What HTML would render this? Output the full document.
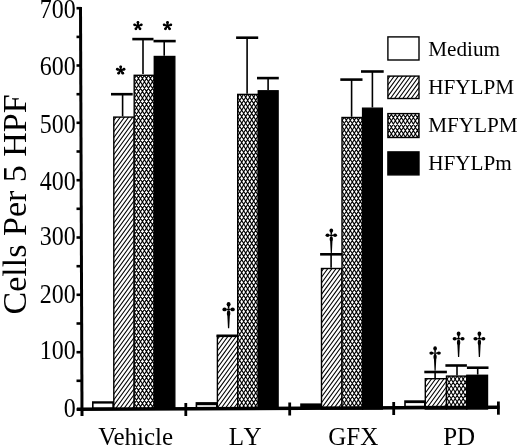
<!DOCTYPE html>
<html><head><meta charset="utf-8"><title>Cells Per 5 HPF</title>
<style>
html,body{margin:0;padding:0;background:#fff;}
body{width:520px;height:446px;overflow:hidden;font-family:"Liberation Serif", serif;}
svg{display:block;will-change:transform;}
</style></head><body>
<svg width="520" height="446" viewBox="0 0 520 446" font-family='"Liberation Serif", serif'><rect x="113.8" y="117.1" width="20.4" height="291.9" fill="#fff"/><clipPath id="c1"><rect x="113.80" y="117.10" width="20.40" height="291.90"/></clipPath><path clip-path="url(#c1)" d="M112.80,110.37L135.20,79.60M112.80,116.07L135.20,85.30M112.80,121.77L135.20,91.00M112.80,127.47L135.20,96.70M112.80,133.17L135.20,102.40M112.80,138.87L135.20,108.10M112.80,144.57L135.20,113.80M112.80,150.27L135.20,119.50M112.80,155.97L135.20,125.20M112.80,161.67L135.20,130.90M112.80,167.37L135.20,136.60M112.80,173.07L135.20,142.30M112.80,178.77L135.20,148.00M112.80,184.47L135.20,153.70M112.80,190.17L135.20,159.40M112.80,195.87L135.20,165.10M112.80,201.57L135.20,170.80M112.80,207.27L135.20,176.50M112.80,212.97L135.20,182.20M112.80,218.67L135.20,187.90M112.80,224.37L135.20,193.60M112.80,230.07L135.20,199.30M112.80,235.77L135.20,205.00M112.80,241.47L135.20,210.70M112.80,247.17L135.20,216.40M112.80,252.87L135.20,222.10M112.80,258.57L135.20,227.80M112.80,264.27L135.20,233.50M112.80,269.97L135.20,239.20M112.80,275.67L135.20,244.90M112.80,281.37L135.20,250.60M112.80,287.07L135.20,256.30M112.80,292.77L135.20,262.00M112.80,298.47L135.20,267.70M112.80,304.17L135.20,273.40M112.80,309.87L135.20,279.10M112.80,315.57L135.20,284.80M112.80,321.27L135.20,290.50M112.80,326.97L135.20,296.20M112.80,332.67L135.20,301.90M112.80,338.37L135.20,307.60M112.80,344.07L135.20,313.30M112.80,349.77L135.20,319.00M112.80,355.47L135.20,324.70M112.80,361.17L135.20,330.40M112.80,366.87L135.20,336.10M112.80,372.57L135.20,341.80M112.80,378.27L135.20,347.50M112.80,383.97L135.20,353.20M112.80,389.67L135.20,358.90M112.80,395.37L135.20,364.60M112.80,401.07L135.20,370.30M112.80,406.77L135.20,376.00M112.80,412.47L135.20,381.70M112.80,418.17L135.20,387.40M112.80,423.87L135.20,393.10M112.80,429.57L135.20,398.80M112.80,435.27L135.20,404.50M112.80,440.97L135.20,410.20" stroke="#000" stroke-width="1.05" fill="none"/><rect x="113.8" y="117.1" width="20.4" height="291.9" fill="none" stroke="#000" stroke-width="1.4"/>
<rect x="134.2" y="75.3" width="20.1" height="333.7" fill="#fff"/><clipPath id="c2"><rect x="134.20" y="75.30" width="20.10" height="333.70"/></clipPath><path clip-path="url(#c2)" d="M133.20,30.94L155.30,66.85M133.20,37.44L155.30,73.35M133.20,43.94L155.30,79.85M133.20,50.44L155.30,86.35M133.20,56.94L155.30,92.85M133.20,63.44L155.30,99.35M133.20,69.94L155.30,105.85M133.20,76.44L155.30,112.35M133.20,82.94L155.30,118.85M133.20,89.44L155.30,125.35M133.20,95.94L155.30,131.85M133.20,102.44L155.30,138.35M133.20,108.94L155.30,144.85M133.20,115.44L155.30,151.35M133.20,121.94L155.30,157.85M133.20,128.44L155.30,164.35M133.20,134.94L155.30,170.85M133.20,141.44L155.30,177.35M133.20,147.94L155.30,183.85M133.20,154.44L155.30,190.35M133.20,160.94L155.30,196.85M133.20,167.44L155.30,203.35M133.20,173.94L155.30,209.85M133.20,180.44L155.30,216.35M133.20,186.94L155.30,222.85M133.20,193.44L155.30,229.35M133.20,199.94L155.30,235.85M133.20,206.44L155.30,242.35M133.20,212.94L155.30,248.85M133.20,219.44L155.30,255.35M133.20,225.94L155.30,261.85M133.20,232.44L155.30,268.35M133.20,238.94L155.30,274.85M133.20,245.44L155.30,281.35M133.20,251.94L155.30,287.85M133.20,258.44L155.30,294.35M133.20,264.94L155.30,300.85M133.20,271.44L155.30,307.35M133.20,277.94L155.30,313.85M133.20,284.44L155.30,320.35M133.20,290.94L155.30,326.85M133.20,297.44L155.30,333.35M133.20,303.94L155.30,339.85M133.20,310.44L155.30,346.35M133.20,316.94L155.30,352.85M133.20,323.44L155.30,359.35M133.20,329.94L155.30,365.85M133.20,336.44L155.30,372.35M133.20,342.94L155.30,378.85M133.20,349.44L155.30,385.35M133.20,355.94L155.30,391.85M133.20,362.44L155.30,398.35M133.20,368.94L155.30,404.85M133.20,375.44L155.30,411.35M133.20,381.94L155.30,417.85M133.20,388.44L155.30,424.35M133.20,394.94L155.30,430.85M133.20,401.44L155.30,437.35M133.20,407.94L155.30,443.85M133.20,414.44L155.30,450.35M133.20,420.94L155.30,456.85M133.20,427.44L155.30,463.35M133.20,433.94L155.30,469.85M133.20,440.44L155.30,476.35M133.20,67.50L155.30,31.59M133.20,74.00L155.30,38.09M133.20,80.50L155.30,44.59M133.20,87.00L155.30,51.09M133.20,93.50L155.30,57.59M133.20,100.00L155.30,64.09M133.20,106.50L155.30,70.59M133.20,113.00L155.30,77.09M133.20,119.50L155.30,83.59M133.20,126.00L155.30,90.09M133.20,132.50L155.30,96.59M133.20,139.00L155.30,103.09M133.20,145.50L155.30,109.59M133.20,152.00L155.30,116.09M133.20,158.50L155.30,122.59M133.20,165.00L155.30,129.09M133.20,171.50L155.30,135.59M133.20,178.00L155.30,142.09M133.20,184.50L155.30,148.59M133.20,191.00L155.30,155.09M133.20,197.50L155.30,161.59M133.20,204.00L155.30,168.09M133.20,210.50L155.30,174.59M133.20,217.00L155.30,181.09M133.20,223.50L155.30,187.59M133.20,230.00L155.30,194.09M133.20,236.50L155.30,200.59M133.20,243.00L155.30,207.09M133.20,249.50L155.30,213.59M133.20,256.00L155.30,220.09M133.20,262.50L155.30,226.59M133.20,269.00L155.30,233.09M133.20,275.50L155.30,239.59M133.20,282.00L155.30,246.09M133.20,288.50L155.30,252.59M133.20,295.00L155.30,259.09M133.20,301.50L155.30,265.59M133.20,308.00L155.30,272.09M133.20,314.50L155.30,278.59M133.20,321.00L155.30,285.09M133.20,327.50L155.30,291.59M133.20,334.00L155.30,298.09M133.20,340.50L155.30,304.59M133.20,347.00L155.30,311.09M133.20,353.50L155.30,317.59M133.20,360.00L155.30,324.09M133.20,366.50L155.30,330.59M133.20,373.00L155.30,337.09M133.20,379.50L155.30,343.59M133.20,386.00L155.30,350.09M133.20,392.50L155.30,356.59M133.20,399.00L155.30,363.09M133.20,405.50L155.30,369.59M133.20,412.00L155.30,376.09M133.20,418.50L155.30,382.59M133.20,425.00L155.30,389.09M133.20,431.50L155.30,395.59M133.20,438.00L155.30,402.09M133.20,444.50L155.30,408.59" stroke="#000" stroke-width="1.1" fill="none"/><rect x="134.2" y="75.3" width="20.1" height="333.7" fill="none" stroke="#000" stroke-width="1.4"/>
<rect x="154.3" y="56.5" width="20.5" height="352.5" fill="#000" stroke="#000" stroke-width="1.4"/>
<rect x="217.4" y="335.9" width="20.3" height="73.1" fill="#fff"/><clipPath id="c3"><rect x="217.40" y="335.90" width="20.30" height="73.10"/></clipPath><path clip-path="url(#c3)" d="M216.40,329.38L238.70,298.75M216.40,335.08L238.70,304.45M216.40,340.78L238.70,310.15M216.40,346.48L238.70,315.85M216.40,352.18L238.70,321.55M216.40,357.88L238.70,327.25M216.40,363.58L238.70,332.95M216.40,369.28L238.70,338.65M216.40,374.98L238.70,344.35M216.40,380.68L238.70,350.05M216.40,386.38L238.70,355.75M216.40,392.08L238.70,361.45M216.40,397.78L238.70,367.15M216.40,403.48L238.70,372.85M216.40,409.18L238.70,378.55M216.40,414.88L238.70,384.25M216.40,420.58L238.70,389.95M216.40,426.28L238.70,395.65M216.40,431.98L238.70,401.35M216.40,437.68L238.70,407.05M216.40,443.38L238.70,412.75" stroke="#000" stroke-width="1.05" fill="none"/><rect x="217.4" y="335.9" width="20.3" height="73.1" fill="none" stroke="#000" stroke-width="1.4"/>
<rect x="237.7" y="94.4" width="20.6" height="314.6" fill="#fff"/><clipPath id="c4"><rect x="237.70" y="94.40" width="20.60" height="314.60"/></clipPath><path clip-path="url(#c4)" d="M236.70,50.04L259.30,86.76M236.70,56.54L259.30,93.26M236.70,63.04L259.30,99.76M236.70,69.54L259.30,106.26M236.70,76.04L259.30,112.76M236.70,82.54L259.30,119.26M236.70,89.04L259.30,125.76M236.70,95.54L259.30,132.26M236.70,102.04L259.30,138.76M236.70,108.54L259.30,145.26M236.70,115.04L259.30,151.76M236.70,121.54L259.30,158.26M236.70,128.04L259.30,164.76M236.70,134.54L259.30,171.26M236.70,141.04L259.30,177.76M236.70,147.54L259.30,184.26M236.70,154.04L259.30,190.76M236.70,160.54L259.30,197.26M236.70,167.04L259.30,203.76M236.70,173.54L259.30,210.26M236.70,180.04L259.30,216.76M236.70,186.54L259.30,223.26M236.70,193.04L259.30,229.76M236.70,199.54L259.30,236.26M236.70,206.04L259.30,242.76M236.70,212.54L259.30,249.26M236.70,219.04L259.30,255.76M236.70,225.54L259.30,262.26M236.70,232.04L259.30,268.76M236.70,238.54L259.30,275.26M236.70,245.04L259.30,281.76M236.70,251.54L259.30,288.26M236.70,258.04L259.30,294.76M236.70,264.54L259.30,301.26M236.70,271.04L259.30,307.76M236.70,277.54L259.30,314.26M236.70,284.04L259.30,320.76M236.70,290.54L259.30,327.26M236.70,297.04L259.30,333.76M236.70,303.54L259.30,340.26M236.70,310.04L259.30,346.76M236.70,316.54L259.30,353.26M236.70,323.04L259.30,359.76M236.70,329.54L259.30,366.26M236.70,336.04L259.30,372.76M236.70,342.54L259.30,379.26M236.70,349.04L259.30,385.76M236.70,355.54L259.30,392.26M236.70,362.04L259.30,398.76M236.70,368.54L259.30,405.26M236.70,375.04L259.30,411.76M236.70,381.54L259.30,418.26M236.70,388.04L259.30,424.76M236.70,394.54L259.30,431.26M236.70,401.04L259.30,437.76M236.70,407.54L259.30,444.26M236.70,414.04L259.30,450.76M236.70,420.54L259.30,457.26M236.70,427.04L259.30,463.76M236.70,433.54L259.30,470.26M236.70,440.04L259.30,476.76M236.70,446.54L259.30,483.26M236.70,85.79L259.30,49.06M236.70,92.29L259.30,55.56M236.70,98.79L259.30,62.06M236.70,105.29L259.30,68.56M236.70,111.79L259.30,75.06M236.70,118.29L259.30,81.56M236.70,124.79L259.30,88.06M236.70,131.29L259.30,94.56M236.70,137.79L259.30,101.06M236.70,144.29L259.30,107.56M236.70,150.79L259.30,114.06M236.70,157.29L259.30,120.56M236.70,163.79L259.30,127.06M236.70,170.29L259.30,133.56M236.70,176.79L259.30,140.06M236.70,183.29L259.30,146.56M236.70,189.79L259.30,153.06M236.70,196.29L259.30,159.56M236.70,202.79L259.30,166.06M236.70,209.29L259.30,172.56M236.70,215.79L259.30,179.06M236.70,222.29L259.30,185.56M236.70,228.79L259.30,192.06M236.70,235.29L259.30,198.56M236.70,241.79L259.30,205.06M236.70,248.29L259.30,211.56M236.70,254.79L259.30,218.06M236.70,261.29L259.30,224.56M236.70,267.79L259.30,231.06M236.70,274.29L259.30,237.56M236.70,280.79L259.30,244.06M236.70,287.29L259.30,250.56M236.70,293.79L259.30,257.06M236.70,300.29L259.30,263.56M236.70,306.79L259.30,270.06M236.70,313.29L259.30,276.56M236.70,319.79L259.30,283.06M236.70,326.29L259.30,289.56M236.70,332.79L259.30,296.06M236.70,339.29L259.30,302.56M236.70,345.79L259.30,309.06M236.70,352.29L259.30,315.56M236.70,358.79L259.30,322.06M236.70,365.29L259.30,328.56M236.70,371.79L259.30,335.06M236.70,378.29L259.30,341.56M236.70,384.79L259.30,348.06M236.70,391.29L259.30,354.56M236.70,397.79L259.30,361.06M236.70,404.29L259.30,367.56M236.70,410.79L259.30,374.06M236.70,417.29L259.30,380.56M236.70,423.79L259.30,387.06M236.70,430.29L259.30,393.56M236.70,436.79L259.30,400.06M236.70,443.29L259.30,406.56M236.70,449.79L259.30,413.06" stroke="#000" stroke-width="1.1" fill="none"/><rect x="237.7" y="94.4" width="20.6" height="314.6" fill="none" stroke="#000" stroke-width="1.4"/>
<rect x="258.3" y="90.8" width="19.8" height="318.2" fill="#000" stroke="#000" stroke-width="1.4"/>
<rect x="321.5" y="268.5" width="20.5" height="140.5" fill="#fff"/><clipPath id="c5"><rect x="321.50" y="268.50" width="20.50" height="140.50"/></clipPath><path clip-path="url(#c5)" d="M320.50,261.50L343.00,230.59M320.50,267.20L343.00,236.29M320.50,272.90L343.00,241.99M320.50,278.60L343.00,247.69M320.50,284.30L343.00,253.39M320.50,290.00L343.00,259.09M320.50,295.70L343.00,264.79M320.50,301.40L343.00,270.49M320.50,307.10L343.00,276.19M320.50,312.80L343.00,281.89M320.50,318.50L343.00,287.59M320.50,324.20L343.00,293.29M320.50,329.90L343.00,298.99M320.50,335.60L343.00,304.69M320.50,341.30L343.00,310.39M320.50,347.00L343.00,316.09M320.50,352.70L343.00,321.79M320.50,358.40L343.00,327.49M320.50,364.10L343.00,333.19M320.50,369.80L343.00,338.89M320.50,375.50L343.00,344.59M320.50,381.20L343.00,350.29M320.50,386.90L343.00,355.99M320.50,392.60L343.00,361.69M320.50,398.30L343.00,367.39M320.50,404.00L343.00,373.09M320.50,409.70L343.00,378.79M320.50,415.40L343.00,384.49M320.50,421.10L343.00,390.19M320.50,426.80L343.00,395.89M320.50,432.50L343.00,401.59M320.50,438.20L343.00,407.29M320.50,443.90L343.00,412.99" stroke="#000" stroke-width="1.05" fill="none"/><rect x="321.5" y="268.5" width="20.5" height="140.5" fill="none" stroke="#000" stroke-width="1.4"/>
<rect x="342.0" y="117.5" width="20.6" height="291.5" fill="#fff"/><clipPath id="c6"><rect x="342.00" y="117.50" width="20.60" height="291.50"/></clipPath><path clip-path="url(#c6)" d="M341.00,72.65L363.60,109.38M341.00,79.15L363.60,115.88M341.00,85.65L363.60,122.38M341.00,92.15L363.60,128.88M341.00,98.65L363.60,135.38M341.00,105.15L363.60,141.88M341.00,111.65L363.60,148.38M341.00,118.15L363.60,154.88M341.00,124.65L363.60,161.38M341.00,131.15L363.60,167.88M341.00,137.65L363.60,174.38M341.00,144.15L363.60,180.88M341.00,150.65L363.60,187.38M341.00,157.15L363.60,193.88M341.00,163.65L363.60,200.38M341.00,170.15L363.60,206.88M341.00,176.65L363.60,213.38M341.00,183.15L363.60,219.88M341.00,189.65L363.60,226.38M341.00,196.15L363.60,232.88M341.00,202.65L363.60,239.38M341.00,209.15L363.60,245.88M341.00,215.65L363.60,252.38M341.00,222.15L363.60,258.88M341.00,228.65L363.60,265.38M341.00,235.15L363.60,271.88M341.00,241.65L363.60,278.38M341.00,248.15L363.60,284.88M341.00,254.65L363.60,291.38M341.00,261.15L363.60,297.88M341.00,267.65L363.60,304.38M341.00,274.15L363.60,310.88M341.00,280.65L363.60,317.38M341.00,287.15L363.60,323.88M341.00,293.65L363.60,330.38M341.00,300.15L363.60,336.88M341.00,306.65L363.60,343.38M341.00,313.15L363.60,349.88M341.00,319.65L363.60,356.38M341.00,326.15L363.60,362.88M341.00,332.65L363.60,369.38M341.00,339.15L363.60,375.88M341.00,345.65L363.60,382.38M341.00,352.15L363.60,388.88M341.00,358.65L363.60,395.38M341.00,365.15L363.60,401.88M341.00,371.65L363.60,408.38M341.00,378.15L363.60,414.88M341.00,384.65L363.60,421.38M341.00,391.15L363.60,427.88M341.00,397.65L363.60,434.38M341.00,404.15L363.60,440.88M341.00,410.65L363.60,447.38M341.00,417.15L363.60,453.88M341.00,423.65L363.60,460.38M341.00,430.15L363.60,466.88M341.00,436.65L363.60,473.38M341.00,443.15L363.60,479.88M341.00,109.38L363.60,72.65M341.00,115.88L363.60,79.15M341.00,122.38L363.60,85.65M341.00,128.88L363.60,92.15M341.00,135.38L363.60,98.65M341.00,141.88L363.60,105.15M341.00,148.38L363.60,111.65M341.00,154.88L363.60,118.15M341.00,161.38L363.60,124.65M341.00,167.88L363.60,131.15M341.00,174.38L363.60,137.65M341.00,180.88L363.60,144.15M341.00,187.38L363.60,150.65M341.00,193.88L363.60,157.15M341.00,200.38L363.60,163.65M341.00,206.88L363.60,170.15M341.00,213.38L363.60,176.65M341.00,219.88L363.60,183.15M341.00,226.38L363.60,189.65M341.00,232.88L363.60,196.15M341.00,239.38L363.60,202.65M341.00,245.88L363.60,209.15M341.00,252.38L363.60,215.65M341.00,258.88L363.60,222.15M341.00,265.38L363.60,228.65M341.00,271.88L363.60,235.15M341.00,278.38L363.60,241.65M341.00,284.88L363.60,248.15M341.00,291.38L363.60,254.65M341.00,297.88L363.60,261.15M341.00,304.38L363.60,267.65M341.00,310.88L363.60,274.15M341.00,317.38L363.60,280.65M341.00,323.88L363.60,287.15M341.00,330.38L363.60,293.65M341.00,336.88L363.60,300.15M341.00,343.38L363.60,306.65M341.00,349.88L363.60,313.15M341.00,356.38L363.60,319.65M341.00,362.88L363.60,326.15M341.00,369.38L363.60,332.65M341.00,375.88L363.60,339.15M341.00,382.38L363.60,345.65M341.00,388.88L363.60,352.15M341.00,395.38L363.60,358.65M341.00,401.88L363.60,365.15M341.00,408.38L363.60,371.65M341.00,414.88L363.60,378.15M341.00,421.38L363.60,384.65M341.00,427.88L363.60,391.15M341.00,434.38L363.60,397.65M341.00,440.88L363.60,404.15M341.00,447.38L363.60,410.65" stroke="#000" stroke-width="1.1" fill="none"/><rect x="342.0" y="117.5" width="20.6" height="291.5" fill="none" stroke="#000" stroke-width="1.4"/>
<rect x="362.6" y="108.2" width="19.7" height="300.8" fill="#000" stroke="#000" stroke-width="1.4"/>
<rect x="425.3" y="378.7" width="21.2" height="30.3" fill="#fff"/><clipPath id="c7"><rect x="425.30" y="378.70" width="21.20" height="30.30"/></clipPath><path clip-path="url(#c7)" d="M424.30,371.63L447.50,339.76M424.30,377.33L447.50,345.46M424.30,383.03L447.50,351.16M424.30,388.73L447.50,356.86M424.30,394.43L447.50,362.56M424.30,400.13L447.50,368.26M424.30,405.83L447.50,373.96M424.30,411.53L447.50,379.66M424.30,417.23L447.50,385.36M424.30,422.93L447.50,391.06M424.30,428.63L447.50,396.76M424.30,434.33L447.50,402.46M424.30,440.03L447.50,408.16" stroke="#000" stroke-width="1.05" fill="none"/><rect x="425.3" y="378.7" width="21.2" height="30.3" fill="none" stroke="#000" stroke-width="1.4"/>
<rect x="446.5" y="376.1" width="20.3" height="32.9" fill="#fff"/><clipPath id="c8"><rect x="446.50" y="376.10" width="20.30" height="32.90"/></clipPath><path clip-path="url(#c8)" d="M445.50,330.92L467.80,367.16M445.50,337.42L467.80,373.66M445.50,343.92L467.80,380.16M445.50,350.42L467.80,386.66M445.50,356.92L467.80,393.16M445.50,363.42L467.80,399.66M445.50,369.92L467.80,406.16M445.50,376.42L467.80,412.66M445.50,382.92L467.80,419.16M445.50,389.42L467.80,425.66M445.50,395.92L467.80,432.16M445.50,402.42L467.80,438.66M445.50,408.92L467.80,445.16M445.50,415.42L467.80,451.66M445.50,421.92L467.80,458.16M445.50,428.42L467.80,464.66M445.50,434.92L467.80,471.16M445.50,441.42L467.80,477.66M445.50,368.79L467.80,332.55M445.50,375.29L467.80,339.05M445.50,381.79L467.80,345.55M445.50,388.29L467.80,352.05M445.50,394.79L467.80,358.55M445.50,401.29L467.80,365.05M445.50,407.79L467.80,371.55M445.50,414.29L467.80,378.05M445.50,420.79L467.80,384.55M445.50,427.29L467.80,391.05M445.50,433.79L467.80,397.55M445.50,440.29L467.80,404.05M445.50,446.79L467.80,410.55" stroke="#000" stroke-width="1.1" fill="none"/><rect x="446.5" y="376.1" width="20.3" height="32.9" fill="none" stroke="#000" stroke-width="1.4"/>
<rect x="466.8" y="375.3" width="20.7" height="33.7" fill="#000" stroke="#000" stroke-width="1.4"/>
<rect x="92" y="401.25" width="21.80" height="8.25" fill="#000"/>
<rect x="93.6" y="403.6" width="18.70" height="4.00" fill="#fff"/>
<rect x="195.6" y="402.1" width="21.80" height="6.90" fill="#000"/>
<rect x="197.2" y="405.2" width="18.80" height="1.70" fill="#fff"/>
<rect x="300.2" y="403.4" width="21.30" height="5.10" fill="#000"/>
<rect x="404.2" y="400.3" width="21.10" height="7.70" fill="#000"/>
<rect x="405.8" y="403.1" width="18.20" height="2.70" fill="#fff"/>
<line x1="122.6" y1="94.2" x2="122.6" y2="116.4" stroke="#000" stroke-width="1.6"/>
<line x1="111" y1="94.2" x2="132.7" y2="94.2" stroke="#000" stroke-width="2.6"/>
<line x1="143" y1="39.1" x2="143" y2="74" stroke="#000" stroke-width="1.6"/>
<line x1="132.3" y1="39.1" x2="153.5" y2="39.1" stroke="#000" stroke-width="2.6"/>
<line x1="164.2" y1="41.1" x2="164.2" y2="55.8" stroke="#000" stroke-width="1.6"/>
<line x1="153.5" y1="41.1" x2="175.7" y2="41.1" stroke="#000" stroke-width="2.6"/>
<line x1="227.5" y1="335.8" x2="227.5" y2="335.2" stroke="#000" stroke-width="1.6"/>
<line x1="216.5" y1="335.8" x2="238.2" y2="335.8" stroke="#000" stroke-width="2.6"/>
<line x1="247.1" y1="37.7" x2="247.1" y2="93.7" stroke="#000" stroke-width="1.6"/>
<line x1="236.1" y1="37.7" x2="258.2" y2="37.7" stroke="#000" stroke-width="2.6"/>
<line x1="268.1" y1="78.1" x2="268.1" y2="90.1" stroke="#000" stroke-width="1.6"/>
<line x1="257" y1="78.1" x2="278.8" y2="78.1" stroke="#000" stroke-width="2.6"/>
<line x1="331.1" y1="254.3" x2="331.1" y2="267.8" stroke="#000" stroke-width="1.6"/>
<line x1="320.1" y1="254.3" x2="342.3" y2="254.3" stroke="#000" stroke-width="2.6"/>
<line x1="351.6" y1="79.6" x2="351.6" y2="116.8" stroke="#000" stroke-width="1.6"/>
<line x1="340.3" y1="79.6" x2="362.5" y2="79.6" stroke="#000" stroke-width="2.6"/>
<line x1="372.4" y1="71.5" x2="372.4" y2="107.5" stroke="#000" stroke-width="1.6"/>
<line x1="361" y1="71.5" x2="383.7" y2="71.5" stroke="#000" stroke-width="2.6"/>
<line x1="435.1" y1="372" x2="435.1" y2="378" stroke="#000" stroke-width="1.6"/>
<line x1="424.3" y1="372" x2="446.9" y2="372" stroke="#000" stroke-width="2.6"/>
<line x1="457" y1="365.5" x2="457" y2="375.4" stroke="#000" stroke-width="1.6"/>
<line x1="445.4" y1="365.5" x2="466.9" y2="365.5" stroke="#000" stroke-width="2.6"/>
<line x1="477.7" y1="367.7" x2="477.7" y2="374.6" stroke="#000" stroke-width="1.6"/>
<line x1="466.9" y1="367.7" x2="488.5" y2="367.7" stroke="#000" stroke-width="2.6"/>
<line x1="80.5" y1="7" x2="82" y2="416" stroke="#000" stroke-width="3"/>
<line x1="77" y1="409.3" x2="499.5" y2="407.3" stroke="#000" stroke-width="3.6"/>
<line x1="76.5" y1="409.5" x2="81" y2="409.5" stroke="#000" stroke-width="2.6"/>
<line x1="76.5" y1="380.8" x2="81" y2="380.8" stroke="#000" stroke-width="2.6"/>
<line x1="76.5" y1="352.2" x2="81" y2="352.2" stroke="#000" stroke-width="2.6"/>
<line x1="76.5" y1="323.5" x2="81" y2="323.5" stroke="#000" stroke-width="2.6"/>
<line x1="76.5" y1="294.8" x2="81" y2="294.8" stroke="#000" stroke-width="2.6"/>
<line x1="76.5" y1="266.2" x2="81" y2="266.2" stroke="#000" stroke-width="2.6"/>
<line x1="76.5" y1="237.5" x2="81" y2="237.5" stroke="#000" stroke-width="2.6"/>
<line x1="76.5" y1="208.8" x2="81" y2="208.8" stroke="#000" stroke-width="2.6"/>
<line x1="76.5" y1="180.2" x2="81" y2="180.2" stroke="#000" stroke-width="2.6"/>
<line x1="76.5" y1="151.5" x2="81" y2="151.5" stroke="#000" stroke-width="2.6"/>
<line x1="76.5" y1="122.8" x2="81" y2="122.8" stroke="#000" stroke-width="2.6"/>
<line x1="76.5" y1="94.2" x2="81" y2="94.2" stroke="#000" stroke-width="2.6"/>
<line x1="76.5" y1="65.5" x2="81" y2="65.5" stroke="#000" stroke-width="2.6"/>
<line x1="76.5" y1="36.9" x2="81" y2="36.9" stroke="#000" stroke-width="2.6"/>
<line x1="76.5" y1="8.2" x2="81" y2="8.2" stroke="#000" stroke-width="2.6"/>
<line x1="185.8" y1="403" x2="185.8" y2="416" stroke="#000" stroke-width="2.8"/>
<line x1="289.7" y1="402.5" x2="289.7" y2="415.5" stroke="#000" stroke-width="2.8"/>
<line x1="393.7" y1="402" x2="393.7" y2="415" stroke="#000" stroke-width="2.8"/>
<line x1="498.4" y1="401.5" x2="498.4" y2="414.7" stroke="#000" stroke-width="2.8"/>
<text transform="translate(75.8,417.2) scale(1,1.1)" text-anchor="end" font-size="24">0</text>
<text transform="translate(75.8,358.9) scale(1,1.1)" text-anchor="end" font-size="24">100</text>
<text transform="translate(75.8,302.7) scale(1,1.1)" text-anchor="end" font-size="24">200</text>
<text transform="translate(75.8,245.3) scale(1,1.1)" text-anchor="end" font-size="24">300</text>
<text transform="translate(75.8,189.6) scale(1,1.1)" text-anchor="end" font-size="24">400</text>
<text transform="translate(75.8,133.1) scale(1,1.1)" text-anchor="end" font-size="24">500</text>
<text transform="translate(75.8,74.5) scale(1,1.1)" text-anchor="end" font-size="24">600</text>
<text transform="translate(75.8,17.5) scale(1,1.1)" text-anchor="end" font-size="24">700</text>
<text x="135.7" y="444.7" text-anchor="middle" font-size="25">Vehicle</text>
<text x="246.2" y="444.7" text-anchor="middle" font-size="25" letter-spacing="2">LY</text>
<text x="353.2" y="444.7" text-anchor="middle" font-size="25">GFX</text>
<text x="459.2" y="444.7" text-anchor="middle" font-size="25">PD</text>
<text transform="translate(25.9,314.4) rotate(-90)" x="0" y="0" font-size="34">Cells Per 5 HPF</text>
<rect x="387.9" y="36.9" width="31.1" height="23.1" fill="#fff" stroke="#000" stroke-width="1.4"/>
<text x="428.2" y="55.9" font-size="21.2">Medium</text>
<rect x="387.9" y="76.1" width="31.1" height="22.4" fill="#fff"/><clipPath id="c9"><rect x="387.90" y="76.10" width="31.10" height="22.40"/></clipPath><path clip-path="url(#c9)" d="M386.90,69.10L420.00,23.63M386.90,74.80L420.00,29.33M386.90,80.50L420.00,35.03M386.90,86.20L420.00,40.73M386.90,91.90L420.00,46.43M386.90,97.60L420.00,52.13M386.90,103.30L420.00,57.83M386.90,109.00L420.00,63.53M386.90,114.70L420.00,69.23M386.90,120.40L420.00,74.93M386.90,126.10L420.00,80.63M386.90,131.80L420.00,86.33M386.90,137.50L420.00,92.03M386.90,143.20L420.00,97.73" stroke="#000" stroke-width="1.05" fill="none"/><rect x="387.9" y="76.1" width="31.1" height="22.4" fill="none" stroke="#000" stroke-width="1.4"/>
<text x="428.2" y="93.7" font-size="21.2">HFYLPM</text>
<rect x="387.9" y="113.6" width="31.1" height="23.9" fill="#fff"/><clipPath id="c10"><rect x="387.90" y="113.60" width="31.10" height="23.90"/></clipPath><path clip-path="url(#c10)" d="M386.90,48.60L420.00,102.39M386.90,55.10L420.00,108.89M386.90,61.60L420.00,115.39M386.90,68.10L420.00,121.89M386.90,74.60L420.00,128.39M386.90,81.10L420.00,134.89M386.90,87.60L420.00,141.39M386.90,94.10L420.00,147.89M386.90,100.60L420.00,154.39M386.90,107.10L420.00,160.89M386.90,113.60L420.00,167.39M386.90,120.10L420.00,173.89M386.90,126.60L420.00,180.39M386.90,133.10L420.00,186.89M386.90,139.60L420.00,193.39M386.90,146.10L420.00,199.89M386.90,152.60L420.00,206.39M386.90,159.10L420.00,212.89M386.90,165.60L420.00,219.39M386.90,172.10L420.00,225.89M386.90,178.60L420.00,232.39M386.90,185.10L420.00,238.89M386.90,191.60L420.00,245.39M386.90,108.56L420.00,54.77M386.90,115.06L420.00,61.27M386.90,121.56L420.00,67.77M386.90,128.06L420.00,74.27M386.90,134.56L420.00,80.77M386.90,141.06L420.00,87.27M386.90,147.56L420.00,93.77M386.90,154.06L420.00,100.27M386.90,160.56L420.00,106.77M386.90,167.06L420.00,113.27M386.90,173.56L420.00,119.77M386.90,180.06L420.00,126.27M386.90,186.56L420.00,132.77M386.90,193.06L420.00,139.27" stroke="#000" stroke-width="1.1" fill="none"/><rect x="387.9" y="113.6" width="31.1" height="23.9" fill="none" stroke="#000" stroke-width="1.4"/>
<text x="428.2" y="131.7" font-size="21.2">MFYLPM</text>
<rect x="387.9" y="151.9" width="31.1" height="23.0" fill="#000" stroke="#000" stroke-width="1.4"/>
<text x="428.2" y="170.2" font-size="21.2">HFYLPm</text>
<line x1="120.70" y1="70.35" x2="120.70" y2="66.85" stroke="#000" stroke-width="2.0" stroke-linecap="round"/><circle cx="120.70" cy="66.85" r="1.4" fill="#000"/><line x1="120.70" y1="70.35" x2="124.03" y2="69.27" stroke="#000" stroke-width="2.0" stroke-linecap="round"/><circle cx="124.03" cy="69.27" r="1.4" fill="#000"/><line x1="120.70" y1="70.35" x2="122.76" y2="73.18" stroke="#000" stroke-width="2.0" stroke-linecap="round"/><circle cx="122.76" cy="73.18" r="1.4" fill="#000"/><line x1="120.70" y1="70.35" x2="118.64" y2="73.18" stroke="#000" stroke-width="2.0" stroke-linecap="round"/><circle cx="118.64" cy="73.18" r="1.4" fill="#000"/><line x1="120.70" y1="70.35" x2="117.37" y2="69.27" stroke="#000" stroke-width="2.0" stroke-linecap="round"/><circle cx="117.37" cy="69.27" r="1.4" fill="#000"/><circle cx="120.70" cy="70.35" r="1.6" fill="#000"/>
<line x1="137.95" y1="25.95" x2="137.95" y2="22.45" stroke="#000" stroke-width="2.0" stroke-linecap="round"/><circle cx="137.95" cy="22.45" r="1.4" fill="#000"/><line x1="137.95" y1="25.95" x2="141.28" y2="24.87" stroke="#000" stroke-width="2.0" stroke-linecap="round"/><circle cx="141.28" cy="24.87" r="1.4" fill="#000"/><line x1="137.95" y1="25.95" x2="140.01" y2="28.78" stroke="#000" stroke-width="2.0" stroke-linecap="round"/><circle cx="140.01" cy="28.78" r="1.4" fill="#000"/><line x1="137.95" y1="25.95" x2="135.89" y2="28.78" stroke="#000" stroke-width="2.0" stroke-linecap="round"/><circle cx="135.89" cy="28.78" r="1.4" fill="#000"/><line x1="137.95" y1="25.95" x2="134.62" y2="24.87" stroke="#000" stroke-width="2.0" stroke-linecap="round"/><circle cx="134.62" cy="24.87" r="1.4" fill="#000"/><circle cx="137.95" cy="25.95" r="1.6" fill="#000"/>
<line x1="167.50" y1="25.95" x2="167.50" y2="22.45" stroke="#000" stroke-width="2.0" stroke-linecap="round"/><circle cx="167.50" cy="22.45" r="1.4" fill="#000"/><line x1="167.50" y1="25.95" x2="170.83" y2="24.87" stroke="#000" stroke-width="2.0" stroke-linecap="round"/><circle cx="170.83" cy="24.87" r="1.4" fill="#000"/><line x1="167.50" y1="25.95" x2="169.56" y2="28.78" stroke="#000" stroke-width="2.0" stroke-linecap="round"/><circle cx="169.56" cy="28.78" r="1.4" fill="#000"/><line x1="167.50" y1="25.95" x2="165.44" y2="28.78" stroke="#000" stroke-width="2.0" stroke-linecap="round"/><circle cx="165.44" cy="28.78" r="1.4" fill="#000"/><line x1="167.50" y1="25.95" x2="164.17" y2="24.87" stroke="#000" stroke-width="2.0" stroke-linecap="round"/><circle cx="164.17" cy="24.87" r="1.4" fill="#000"/><circle cx="167.50" cy="25.95" r="1.6" fill="#000"/>
<g transform="translate(228.6,302) scale(1.031372549019608)" fill="#000"><ellipse cx="0" cy="2.3" rx="1.9" ry="2.3"/><ellipse cx="-3.9" cy="7.2" rx="2.1" ry="1.8"/><ellipse cx="3.9" cy="7.2" rx="2.1" ry="1.8"/><path d="M-0.7,3 L0.7,3 L0.8,6.5 L-0.8,6.5 Z"/><path d="M-2,6.5 L2,6.5 L2,7.9 L-2,7.9 Z"/><path d="M-0.8,8.1 C-1.9,9.6 -1.9,12 -1.2,13.5 L-0.6,25.5 L0.6,25.5 L1.2,13.5 C1.9,12 1.9,9.6 0.8,8.1 Z"/></g>
<g transform="translate(331.3,228.4) scale(0.9607843137254902)" fill="#000"><ellipse cx="0" cy="2.3" rx="1.9" ry="2.3"/><ellipse cx="-3.9" cy="7.2" rx="2.1" ry="1.8"/><ellipse cx="3.9" cy="7.2" rx="2.1" ry="1.8"/><path d="M-0.7,3 L0.7,3 L0.8,6.5 L-0.8,6.5 Z"/><path d="M-2,6.5 L2,6.5 L2,7.9 L-2,7.9 Z"/><path d="M-0.8,8.1 C-1.9,9.6 -1.9,12 -1.2,13.5 L-0.6,25.5 L0.6,25.5 L1.2,13.5 C1.9,12 1.9,9.6 0.8,8.1 Z"/></g>
<g transform="translate(435.1,346.2) scale(0.9607843137254902)" fill="#000"><ellipse cx="0" cy="2.3" rx="1.9" ry="2.3"/><ellipse cx="-3.9" cy="7.2" rx="2.1" ry="1.8"/><ellipse cx="3.9" cy="7.2" rx="2.1" ry="1.8"/><path d="M-0.7,3 L0.7,3 L0.8,6.5 L-0.8,6.5 Z"/><path d="M-2,6.5 L2,6.5 L2,7.9 L-2,7.9 Z"/><path d="M-0.8,8.1 C-1.9,9.6 -1.9,12 -1.2,13.5 L-0.6,25.5 L0.6,25.5 L1.2,13.5 C1.9,12 1.9,9.6 0.8,8.1 Z"/></g>
<g transform="translate(458.6,331.5) scale(1.0)" fill="#000"><ellipse cx="0" cy="2.3" rx="1.9" ry="2.3"/><ellipse cx="-3.9" cy="7.2" rx="2.1" ry="1.8"/><ellipse cx="3.9" cy="7.2" rx="2.1" ry="1.8"/><path d="M-0.7,3 L0.7,3 L0.8,6.5 L-0.8,6.5 Z"/><path d="M-2,6.5 L2,6.5 L2,7.9 L-2,7.9 Z"/><path d="M-0.8,8.1 C-1.9,9.6 -1.9,12 -1.2,13.5 L-0.6,25.5 L0.6,25.5 L1.2,13.5 C1.9,12 1.9,9.6 0.8,8.1 Z"/></g>
<g transform="translate(479.4,331.5) scale(1.0)" fill="#000"><ellipse cx="0" cy="2.3" rx="1.9" ry="2.3"/><ellipse cx="-3.9" cy="7.2" rx="2.1" ry="1.8"/><ellipse cx="3.9" cy="7.2" rx="2.1" ry="1.8"/><path d="M-0.7,3 L0.7,3 L0.8,6.5 L-0.8,6.5 Z"/><path d="M-2,6.5 L2,6.5 L2,7.9 L-2,7.9 Z"/><path d="M-0.8,8.1 C-1.9,9.6 -1.9,12 -1.2,13.5 L-0.6,25.5 L0.6,25.5 L1.2,13.5 C1.9,12 1.9,9.6 0.8,8.1 Z"/></g></svg>
</body></html>
